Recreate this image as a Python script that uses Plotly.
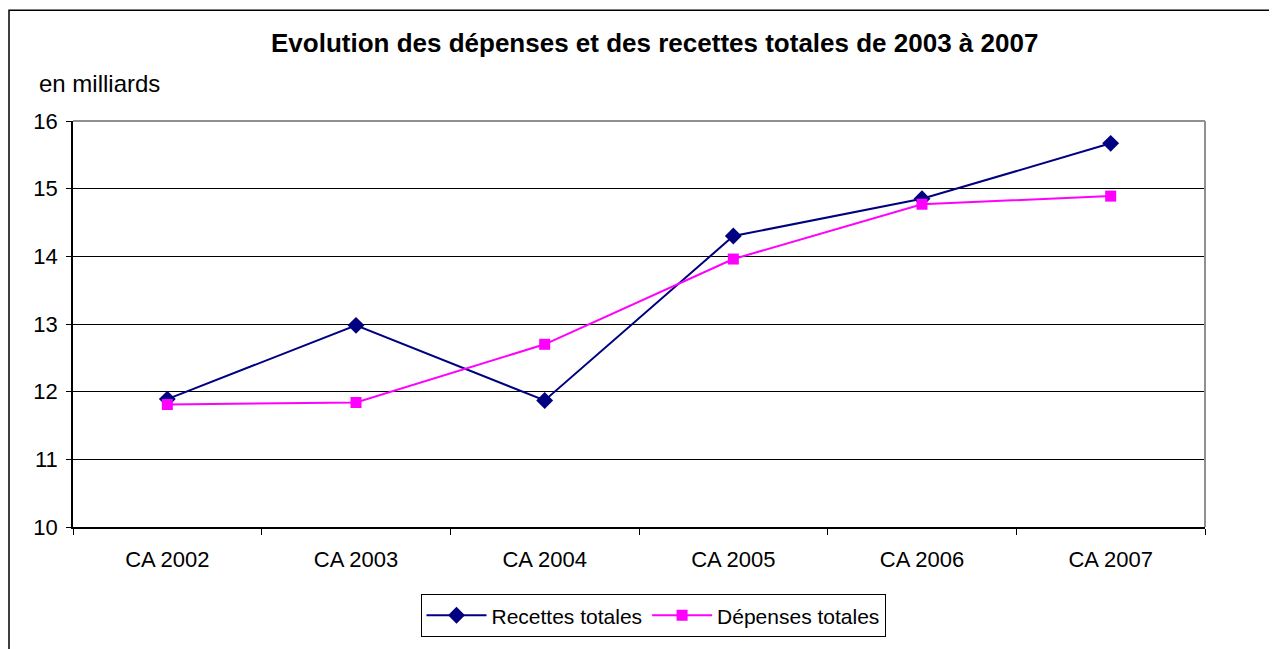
import plotly.graph_objects as go

categories = ["CA 2002", "CA 2003", "CA 2004", "CA 2005", "CA 2006", "CA 2007"]
recettes = [11.89, 12.98, 11.87, 14.30, 14.85, 15.67]
depenses = [11.81, 11.84, 12.70, 13.96, 14.77, 14.89]

# la page ajoute une marge de 8px autour de la figure
OFF = 8
W, H = 1277 - OFF, 649 - OFF
ML, MT = 73 - OFF, 121 - OFF
MR, MB = W - (1205 - OFF), H - (532 - OFF)
PW, PH = W - ML - MR, H - MT - MB


def px_x(x):
    return (x - OFF - ML) / PW


def px_y(y):
    return (H - MB - (y - OFF)) / PH


fig = go.Figure()
fig.add_trace(go.Scatter(
    x=categories, y=recettes, name="Recettes totales", mode="lines+markers",
    line=dict(color="#000080", width=2),
    marker=dict(symbol="diamond", size=13, color="#000080"),
))
fig.add_trace(go.Scatter(
    x=categories, y=depenses, name="Dépenses totales", mode="lines+markers",
    line=dict(color="#FF00FF", width=2),
    marker=dict(symbol="square", size=11, color="#FF00FF"),
))

# cadre extérieur
fig.add_shape(type="rect", xref="paper", yref="paper",
              x0=px_x(9), x1=px_x(1275), y0=px_y(670), y1=px_y(9),
              line=dict(color="black", width=1.5), layer="below")
# bords haut/droit de la zone de tracé en gris
fig.add_shape(type="line", xref="paper", yref="paper", x0=0, x1=1, y0=1, y1=1,
              line=dict(color="#909090", width=2))
fig.add_shape(type="line", xref="paper", yref="paper", x0=1, x1=1, y0=0, y1=1,
              line=dict(color="#909090", width=2))

fig.add_annotation(text="<b>Evolution des dépenses et des recettes totales de 2003 à 2007</b>",
                   xref="paper", yref="paper", x=px_x(654), y=px_y(42),
                   xanchor="center", yanchor="middle",
                   showarrow=False, font=dict(size=26, color="black"))
fig.add_annotation(text="en milliards", xref="paper", yref="paper",
                   x=px_x(37), y=px_y(83), xanchor="left", yanchor="middle",
                   showarrow=False, font=dict(size=24, color="black"))

fig.update_layout(
    width=W, height=H,
    margin=dict(l=ML, r=MR, t=MT, b=MB),
    paper_bgcolor="white", plot_bgcolor="white",
    font=dict(family="Liberation Sans, Arial", size=22, color="black"),
    showlegend=True,
    legend=dict(orientation="h", x=px_x(653), xanchor="center",
                y=px_y(600), yanchor="top",
                bordercolor="black", borderwidth=1,
                font=dict(size=21), itemwidth=60),
    xaxis=dict(type="category", range=[-0.5, 5.5], showgrid=False,
               showline=True, linecolor="black", linewidth=1.5,
               ticks="outside", tickson="boundaries", ticklen=6,
               tickcolor="black", zeroline=False, ticklabelstandoff=12),
    yaxis=dict(range=[10, 16], dtick=1, showgrid=True, gridcolor="black",
               gridwidth=1, showline=True, linecolor="black", linewidth=1.5,
               ticks="outside", ticklen=5, tickcolor="black", zeroline=False,
               ticklabelstandoff=4),
)

fig.write_html("out.html")
